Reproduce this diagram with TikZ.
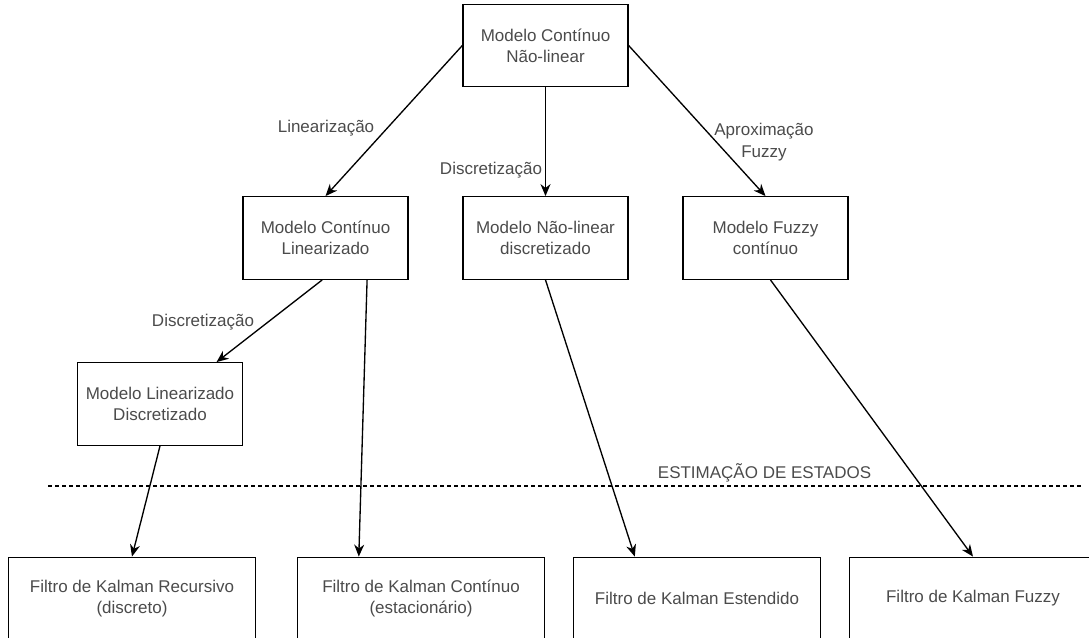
\documentclass[tikz,border=0pt]{standalone}
\usepackage{fontspec}
\setmainfont{Liberation Sans}
\usepackage{tikz}
\usetikzlibrary{calc,arrows.meta}
\definecolor{txt}{RGB}{75,75,75}

\begin{document}
\begin{tikzpicture}[x=0.75pt, y=-0.75pt, font=\fontsize{12.75}{16}\selectfont, text=txt,
        box/.style={draw, line width=1pt, minimum width=123.75pt, minimum height=61.9pt, align=center, inner sep=0pt},
        filtro/.style={box, minimum width=185.6pt},
        lbl/.style={align=center, inner sep=0pt},
        seta/.style={-{Stealth[length=9pt,width=7.5pt]}, line width=1pt}]
        \useasboundingbox (0,0) rectangle (1089,637);
        \clip (0,0) rectangle (1089,637);

        \node[box] (MCNL) at (545.5,45.5) {Modelo Contínuo\\Não-linear};
        \node[box] (MCL) at (325.5,238) {Modelo Contínuo\\Linearizado};
        \node[box] (MNLD) at (545.5,238) {Modelo Não-linear\\discretizado};
        \node[box] (MFC) at (765.5,238) {Modelo Fuzzy\\contínuo};
        \node[box] (MLD) at (160,404) {Modelo Linearizado\\Discretizado};

        \node[filtro] (FKR) at (132,598.5) {Filtro de Kalman Recursivo\\(discreto)};
        \node[filtro] (FKC) at (421,598.5) {Filtro de Kalman Contínuo\\(estacionário)};
        \node[filtro] (FKE) at (697,598.5) {Filtro de Kalman Estendido};
        \node[filtro] (FKF) at (973,598.5) {Filtro de Kalman Fuzzy};

        \node[lbl] (L1) at (326,128) {Linearização};
        \node[lbl] (L2) at (491,170) {Discretização};
        \node[lbl] (L3) at (764,142) {Aproximação\\Fuzzy};
        \node[lbl] (L4) at (203,322) {Discretização};
        \node[lbl] (EST) at (764.5,473) {ESTIMAÇÃO DE ESTADOS};

        \draw[seta] (MCNL.west) -- (MCL.north);
        \draw[seta] (MCNL.south) -- (MNLD.north);
        \draw[seta] (MCNL.east) -- (MFC.north);
        \draw[seta] ($(MCL.south west)!0.48!(MCL.south east)$) -- ($(MLD.north west)!0.84!(MLD.north east)$);
        \draw[seta] ($(MCL.south west)!0.75!(MCL.south east)$) -- ($(FKC.north west)!0.25!(FKC.north east)$);
        \draw[seta] (MNLD.south) -- ($(FKE.north west)!0.25!(FKE.north east)$);
        \draw[seta] ($(MFC.south west)!0.53!(MFC.south east)$) -- (FKF.north);
        \draw[seta] (MLD.south) -- (FKR.north);

        \coordinate (D1) at (48,486);
        \coordinate (D2) at (1082,486);
        \draw[line width=0.9pt, dash pattern=on 3pt off 2.25pt] (D1) -- (D2);
    \end{tikzpicture}
\end{document}
